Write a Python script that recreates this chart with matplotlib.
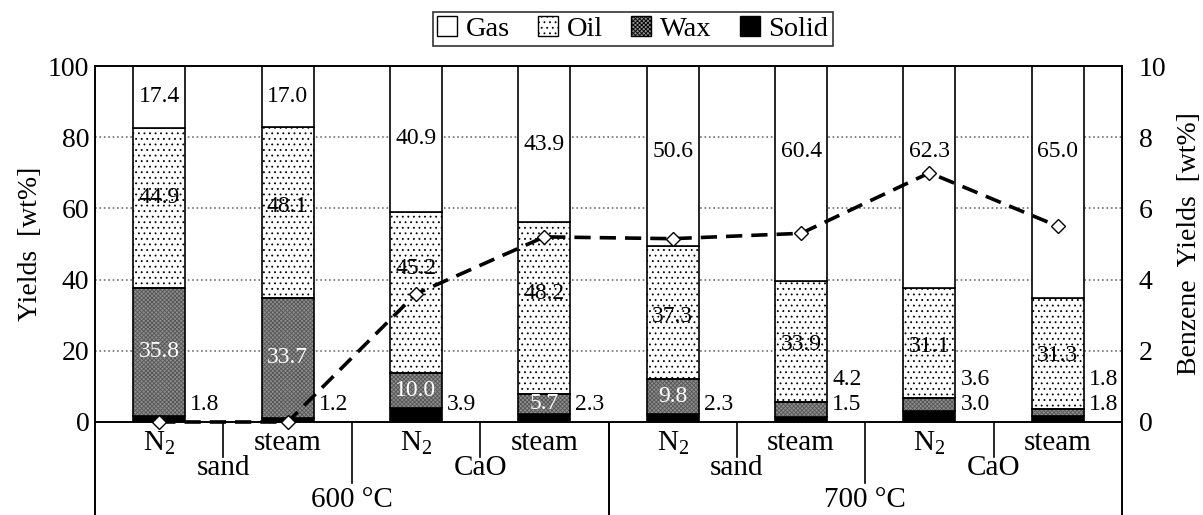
import numpy as np
import matplotlib
matplotlib.use('Agg')
import matplotlib.pyplot as plt
from matplotlib.patches import Patch
from matplotlib.transforms import blended_transform_factory

plt.rcParams['font.family'] = ['Liberation Serif', 'DejaVu Serif']
plt.rcParams['mathtext.default'] = 'regular'
plt.rcParams['hatch.linewidth'] = 0.6

# --- data ---
atmosphere = ['N$_2$', 'steam', 'N$_2$', 'steam', 'N$_2$', 'steam', 'N$_2$', 'steam']
bed_material = ['sand', 'CaO', 'sand', 'CaO']
temperatures = ['600 °C', '700 °C']
gas = [17.4, 17.0, 40.9, 43.9, 50.6, 60.4, 62.3, 65.0]
oil = [44.9, 48.1, 45.2, 48.2, 37.3, 33.9, 31.1, 31.3]
wax = [35.8, 33.7, 10.0, 5.7, 9.8, 4.2, 3.6, 1.8]
solid = [1.8, 1.2, 3.9, 2.3, 2.3, 1.5, 3.0, 1.8]
benzene = [0.0, 0.0, 3.6, 5.2, 5.15, 5.3, 7.0, 5.5]

x = np.arange(len(gas))
solid_a = np.array(solid)
wax_a = np.array(wax)
oil_a = np.array(oil)
gas_a = np.array(gas)
bot_wax = solid_a
bot_oil = solid_a + wax_a
bot_gas = bot_oil + oil_a

fig = plt.figure(figsize=(12.03, 5.15), dpi=100)
ax = fig.add_axes([0.079, 0.1806, 0.8537, 0.6912])

w = 0.405
kw = dict(width=w, edgecolor='black', linewidth=1.2, zorder=2)
ax.bar(x, solid_a, color='black', **kw)
# wax: grey fill with a fine darker texture, then a black outline on top
ax.bar(x, wax_a, bottom=bot_wax, width=w, color='#8e8e8e', edgecolor='#555555',
       hatch='xxxxxxxx', linewidth=0, zorder=2)
ax.bar(x, wax_a, bottom=bot_wax, width=w, fill=False, edgecolor='black',
       linewidth=1.2, zorder=2.1)
ax.bar(x, oil_a, bottom=bot_oil, color='white', hatch='...', **kw)
ax.bar(x, gas_a, bottom=bot_gas, color='white', **kw)

ax.set_xlim(-0.5, 7.5)
ax.set_ylim(0, 100)
ax.set_yticks(np.arange(0, 101, 20))
ax.set_xticks([])
ax.tick_params(axis='y', length=0, labelsize=20, pad=4)
ax.yaxis.grid(True, linestyle=':', color='#707070', linewidth=1.2, zorder=0)
ax.set_axisbelow(True)
ax.set_ylabel('Yields  [wt%]', fontsize=20, labelpad=4)
for s in ax.spines.values():
    s.set_linewidth(1.2)

# value labels
fs = 17
oil_nudge = [3, 1.5, 6.5, 4, -1, -1, -1, -0.5]
for i in x:
    ax.text(i, 100 - min(gas[i] / 2, 24), f'{gas[i]:.1f}', ha='center', va='center',
            fontsize=fs, zorder=5)
    ax.text(i, bot_oil[i] + oil[i] / 2 + oil_nudge[i], f'{oil[i]:.1f}', ha='center',
            va='center', fontsize=fs, zorder=5)
    xr = i + w / 2 + 0.04
    if wax[i] >= 5:
        ax.text(i, bot_wax[i] + wax[i] / 2, f'{wax[i]:.1f}', ha='center', va='center',
                fontsize=fs, color='white', zorder=5)
    else:
        ax.text(xr, 12, f'{wax[i]:.1f}', ha='left', va='center', fontsize=fs, zorder=5)
    ax.text(xr, 4.8, f'{solid[i]:.1f}', ha='left', va='center', fontsize=fs, zorder=5)

# benzene on right axis
ax2 = ax.twinx()
ax2.set_ylim(0, 10)
ax2.set_yticks(np.arange(0, 11, 2))
ax2.tick_params(axis='y', length=0, labelsize=20, pad=12)
ax2.set_ylabel('Benzene  Yields  [wt%]', fontsize=20, labelpad=8)
ax2.plot(x, benzene, color='black', linewidth=2.6, linestyle=(0, (4.5, 2.5)),
         marker='D', markersize=7, markerfacecolor='white', markeredgecolor='black',
         markeredgewidth=1.0, clip_on=False, zorder=6)
for s in ax2.spines.values():
    s.set_linewidth(1.2)

# category labels under the axis
tr = blended_transform_factory(ax.transData, ax.transAxes)
lfs = 21
for i in x:
    ax.text(i, -0.059, atmosphere[i], transform=tr, ha='center', va='center', fontsize=lfs)
for k, name in enumerate(bed_material):
    xm = 2 * k + 0.5
    ax.plot([xm, xm], [0, -0.098], transform=tr, color='black', lw=1.2, clip_on=False)
    ax.text(xm, -0.129, name, transform=tr, ha='center', va='center', fontsize=lfs)
for k, name in enumerate(temperatures):
    xm = 4 * k + 1.5
    ax.plot([xm, xm], [0, -0.171], transform=tr, color='black', lw=1.2, clip_on=False)
    ax.text(xm, -0.219, name, transform=tr, ha='center', va='center', fontsize=lfs)
for xb in [-0.5, 3.5, 7.5]:
    ax.plot([xb, xb], [0, -0.27], transform=tr, color='black', lw=1.4, clip_on=False)

# legend
handles = [
    Patch(facecolor='white', edgecolor='black', label='Gas'),
    Patch(facecolor='white', edgecolor='black', hatch='...', label='Oil'),
    Patch(facecolor='#8e8e8e', edgecolor='black', hatch='xxxxxxxx', label='Wax'),
    Patch(facecolor='black', edgecolor='black', label='Solid'),
]
leg = fig.legend(handles=handles, loc='upper center', bbox_to_anchor=(0.526, 0.977),
                 ncol=4, fontsize=20.5, frameon=True, fancybox=False, edgecolor='black',
                 handlelength=0.7, handleheight=0.7, handletextpad=0.3,
                 columnspacing=1.0, borderpad=0.15, borderaxespad=0)
leg.get_frame().set_linewidth(1.2)

fig.savefig('out.png', dpi=100)
